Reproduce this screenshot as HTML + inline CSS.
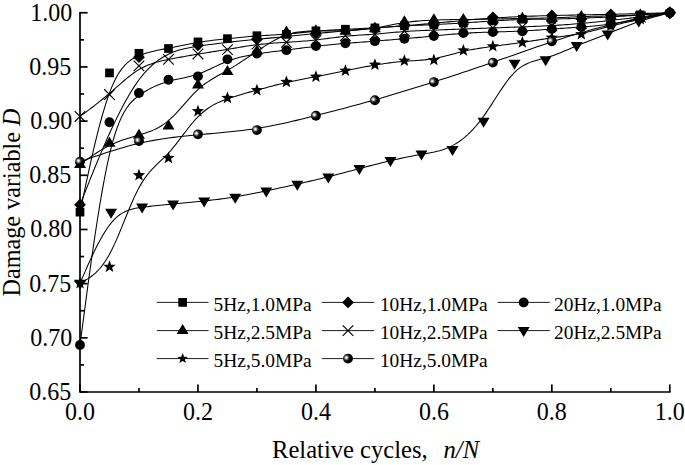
<!DOCTYPE html>
<html><head><meta charset="utf-8"><style>
html,body{margin:0;padding:0;background:#fff;overflow:hidden;}
svg{display:block;}
text{font-family:'Liberation Serif',serif;font-size:24px;fill:#000;}
text.lg{font-size:19.4px;}
text.xt{font-size:24.6px;}
text.yt{font-size:24.2px;}
</style></head><body>
<svg width="685" height="465" viewBox="0 0 685 465">
<defs><radialGradient id="sph" cx="0.34" cy="0.4" r="0.62" fx="0.34" fy="0.4"><stop offset="0" stop-color="#fff"/><stop offset="0.12" stop-color="#eee"/><stop offset="0.38" stop-color="#444"/><stop offset="0.6" stop-color="#000"/><stop offset="1" stop-color="#000"/></radialGradient></defs>
<path d="M80.0,12.75 L80.0,392.01 L669.80,392.01" fill="none" stroke="#000" stroke-width="1.7" stroke-linejoin="miter" stroke-linecap="square"/>
<line x1="80.0" y1="392.01" x2="87.60" y2="392.01" stroke="#000" stroke-width="1.7"/>
<line x1="80.0" y1="364.92" x2="84.00" y2="364.92" stroke="#000" stroke-width="1.7"/>
<line x1="80.0" y1="337.83" x2="87.60" y2="337.83" stroke="#000" stroke-width="1.7"/>
<line x1="80.0" y1="310.74" x2="84.00" y2="310.74" stroke="#000" stroke-width="1.7"/>
<line x1="80.0" y1="283.65" x2="87.60" y2="283.65" stroke="#000" stroke-width="1.7"/>
<line x1="80.0" y1="256.56" x2="84.00" y2="256.56" stroke="#000" stroke-width="1.7"/>
<line x1="80.0" y1="229.47" x2="87.60" y2="229.47" stroke="#000" stroke-width="1.7"/>
<line x1="80.0" y1="202.38" x2="84.00" y2="202.38" stroke="#000" stroke-width="1.7"/>
<line x1="80.0" y1="175.29" x2="87.60" y2="175.29" stroke="#000" stroke-width="1.7"/>
<line x1="80.0" y1="148.20" x2="84.00" y2="148.20" stroke="#000" stroke-width="1.7"/>
<line x1="80.0" y1="121.11" x2="87.60" y2="121.11" stroke="#000" stroke-width="1.7"/>
<line x1="80.0" y1="94.02" x2="84.00" y2="94.02" stroke="#000" stroke-width="1.7"/>
<line x1="80.0" y1="66.93" x2="87.60" y2="66.93" stroke="#000" stroke-width="1.7"/>
<line x1="80.0" y1="39.84" x2="84.00" y2="39.84" stroke="#000" stroke-width="1.7"/>
<line x1="80.0" y1="12.75" x2="87.60" y2="12.75" stroke="#000" stroke-width="1.7"/>
<line x1="80.00" y1="392.01" x2="80.00" y2="384.41" stroke="#000" stroke-width="1.7"/>
<line x1="138.98" y1="392.01" x2="138.98" y2="388.01" stroke="#000" stroke-width="1.7"/>
<line x1="197.96" y1="392.01" x2="197.96" y2="384.41" stroke="#000" stroke-width="1.7"/>
<line x1="256.94" y1="392.01" x2="256.94" y2="388.01" stroke="#000" stroke-width="1.7"/>
<line x1="315.92" y1="392.01" x2="315.92" y2="384.41" stroke="#000" stroke-width="1.7"/>
<line x1="374.90" y1="392.01" x2="374.90" y2="388.01" stroke="#000" stroke-width="1.7"/>
<line x1="433.88" y1="392.01" x2="433.88" y2="384.41" stroke="#000" stroke-width="1.7"/>
<line x1="492.86" y1="392.01" x2="492.86" y2="388.01" stroke="#000" stroke-width="1.7"/>
<line x1="551.84" y1="392.01" x2="551.84" y2="384.41" stroke="#000" stroke-width="1.7"/>
<line x1="610.82" y1="392.01" x2="610.82" y2="388.01" stroke="#000" stroke-width="1.7"/>
<line x1="669.80" y1="392.01" x2="669.80" y2="384.41" stroke="#000" stroke-width="1.7"/>
<text transform="translate(71.20,400.01) scale(1,1.02)" text-anchor="end">0.65</text>
<text transform="translate(72.30,345.83) scale(1,1.02)" text-anchor="end">0.70</text>
<text transform="translate(71.20,291.65) scale(1,1.02)" text-anchor="end">0.75</text>
<text transform="translate(72.30,237.47) scale(1,1.02)" text-anchor="end">0.80</text>
<text transform="translate(71.20,183.29) scale(1,1.02)" text-anchor="end">0.85</text>
<text transform="translate(72.30,129.11) scale(1,1.02)" text-anchor="end">0.90</text>
<text transform="translate(71.20,74.93) scale(1,1.02)" text-anchor="end">0.95</text>
<text transform="translate(72.30,20.75) scale(1,1.02)" text-anchor="end">1.00</text>
<text transform="translate(80.00,419.90) scale(1,1.02)" text-anchor="middle">0.0</text>
<text transform="translate(197.96,419.90) scale(1,1.02)" text-anchor="middle">0.2</text>
<text transform="translate(315.92,419.90) scale(1,1.02)" text-anchor="middle">0.4</text>
<text transform="translate(433.88,419.90) scale(1,1.02)" text-anchor="middle">0.6</text>
<text transform="translate(551.84,419.90) scale(1,1.02)" text-anchor="middle">0.8</text>
<text transform="translate(669.80,419.90) scale(1,1.02)" text-anchor="middle">1.0</text>
<text transform="translate(272.00,458.00) scale(1,1.0)" text-anchor="start" class="xt">Relative cycles,</text>
<text transform="translate(443.50,458.00) scale(1,1.0)" text-anchor="start" class="xt" font-style="italic">n/N</text>
<text class="yt" transform="translate(20,296.5) rotate(-90)">Damage variable <tspan font-style="italic">D</tspan></text>
<path d="M80.00,212.13 L80.00,212.12 L80.02,212.02 L80.08,211.77 L80.18,211.27 L80.36,210.45 L80.61,209.23 L80.98,207.53 L81.46,205.26 L82.07,202.34 L82.84,198.70 L83.79,194.26 L84.91,188.93 L86.24,182.67 L87.76,175.59 L89.45,167.84 L91.29,159.58 L93.26,150.95 L95.36,142.10 L97.56,133.19 L99.84,124.35 L102.19,115.75 L104.60,107.53 L107.04,99.84 L109.49,92.83 L111.95,86.61 L114.40,81.17 L116.86,76.44 L119.32,72.35 L121.78,68.85 L124.23,65.88 L126.69,63.38 L129.15,61.29 L131.61,59.54 L134.06,58.07 L136.52,56.83 L138.98,55.75 L141.44,54.78 L143.89,53.91 L146.35,53.12 L148.81,52.41 L151.27,51.76 L153.72,51.16 L156.18,50.61 L158.64,50.10 L161.10,49.61 L163.56,49.14 L166.01,48.67 L168.47,48.20 L170.93,47.72 L173.38,47.23 L175.84,46.74 L178.30,46.24 L180.76,45.73 L183.21,45.24 L185.67,44.74 L188.13,44.26 L190.59,43.78 L193.04,43.32 L195.50,42.88 L197.96,42.46 L200.42,42.06 L202.87,41.68 L205.33,41.32 L207.79,40.98 L210.25,40.66 L212.70,40.35 L215.16,40.05 L217.62,39.77 L220.08,39.49 L222.53,39.22 L224.99,38.96 L227.45,38.70 L229.91,38.45 L232.37,38.19 L234.82,37.94 L237.28,37.70 L239.74,37.46 L242.19,37.23 L244.65,37.00 L247.11,36.78 L249.57,36.57 L252.03,36.37 L254.48,36.17 L256.94,35.99 L259.40,35.82 L261.86,35.66 L264.31,35.51 L266.77,35.36 L269.23,35.21 L271.69,35.06 L274.14,34.91 L276.60,34.75 L279.06,34.59 L281.51,34.42 L283.97,34.24 L286.43,34.04 L288.89,33.83 L291.34,33.61 L293.80,33.37 L296.26,33.13 L298.72,32.88 L301.17,32.63 L303.63,32.37 L306.09,32.12 L308.55,31.87 L311.00,31.63 L313.46,31.39 L315.92,31.17 L318.38,30.96 L320.83,30.76 L323.29,30.58 L325.75,30.40 L328.21,30.24 L330.66,30.08 L333.12,29.93 L335.58,29.79 L338.04,29.66 L340.49,29.52 L342.95,29.40 L345.41,29.27 L347.87,29.15 L350.32,29.03 L352.78,28.92 L355.24,28.80 L357.70,28.68 L360.15,28.56 L362.61,28.44 L365.07,28.31 L367.53,28.19 L369.98,28.05 L372.44,27.92 L374.90,27.78 L377.36,27.63 L379.81,27.48 L382.27,27.32 L384.73,27.16 L387.19,27.00 L389.64,26.84 L392.10,26.68 L394.56,26.52 L397.02,26.37 L399.47,26.22 L401.93,26.07 L404.39,25.93 L406.85,25.80 L409.31,25.68 L411.76,25.56 L414.22,25.44 L416.68,25.33 L419.13,25.22 L421.59,25.12 L424.05,25.01 L426.51,24.91 L428.97,24.80 L431.42,24.69 L433.88,24.58 L436.34,24.46 L438.79,24.35 L441.25,24.22 L443.71,24.10 L446.17,23.97 L448.62,23.83 L451.08,23.70 L453.54,23.56 L456.00,23.41 L458.45,23.26 L460.91,23.11 L463.37,22.95 L465.83,22.79 L468.28,22.63 L470.74,22.47 L473.20,22.30 L475.66,22.13 L478.12,21.96 L480.57,21.79 L483.03,21.62 L485.49,21.46 L487.94,21.29 L490.40,21.13 L492.86,20.97 L495.32,20.81 L497.77,20.66 L500.23,20.51 L502.69,20.37 L505.15,20.24 L507.60,20.11 L510.06,19.99 L512.52,19.88 L514.98,19.77 L517.43,19.68 L519.89,19.60 L522.35,19.52 L524.81,19.46 L527.26,19.41 L529.72,19.36 L532.18,19.33 L534.64,19.29 L537.09,19.26 L539.55,19.24 L542.01,19.21 L544.47,19.18 L546.92,19.15 L549.38,19.11 L551.84,19.07 L554.30,19.02 L556.75,18.97 L559.21,18.90 L561.67,18.84 L564.13,18.76 L566.59,18.69 L569.04,18.61 L571.50,18.52 L573.96,18.44 L576.41,18.35 L578.87,18.26 L581.33,18.17 L583.79,18.08 L586.24,17.99 L588.70,17.89 L591.16,17.80 L593.62,17.70 L596.07,17.60 L598.53,17.50 L600.99,17.39 L603.45,17.28 L605.90,17.16 L608.36,17.04 L610.82,16.90 L613.28,16.76 L615.73,16.62 L618.19,16.47 L620.65,16.31 L623.11,16.15 L625.56,15.98 L628.02,15.81 L630.48,15.63 L632.94,15.46 L635.39,15.28 L637.85,15.10 L640.31,14.92 L642.76,14.74 L645.20,14.56 L647.61,14.38 L649.96,14.21 L652.24,14.04 L654.44,13.88 L656.54,13.72 L658.51,13.58 L660.35,13.44 L662.04,13.32 L663.56,13.21 L664.88,13.11 L666.01,13.03 L666.96,12.96 L667.73,12.90 L668.34,12.86 L668.82,12.82 L669.19,12.80 L669.44,12.78 L669.62,12.76 L669.72,12.76 L669.78,12.75 L669.80,12.75 L669.80,12.75" fill="none" stroke="#000" stroke-width="1.05"/>
<path d="M80.00,164.45 L80.00,164.45 L80.02,164.44 L80.08,164.40 L80.18,164.32 L80.36,164.20 L80.61,164.01 L80.98,163.75 L81.46,163.41 L82.07,162.97 L82.84,162.42 L83.79,161.74 L84.91,160.93 L86.24,159.98 L87.76,158.90 L89.45,157.72 L91.29,156.45 L93.26,155.11 L95.36,153.72 L97.56,152.30 L99.84,150.88 L102.19,149.47 L104.60,148.08 L107.04,146.75 L109.49,145.49 L111.95,144.32 L114.40,143.22 L116.86,142.20 L119.32,141.25 L121.78,140.35 L124.23,139.51 L126.69,138.70 L129.15,137.93 L131.61,137.18 L134.06,136.45 L136.52,135.72 L138.98,135.00 L141.44,134.26 L143.89,133.50 L146.35,132.70 L148.81,131.84 L151.27,130.89 L153.72,129.86 L156.18,128.70 L158.64,127.42 L161.10,125.99 L163.56,124.39 L166.01,122.61 L168.47,120.62 L170.93,118.43 L173.38,116.05 L175.84,113.52 L178.30,110.87 L180.76,108.14 L183.21,105.36 L185.67,102.57 L188.13,99.80 L190.59,97.08 L193.04,94.44 L195.50,91.93 L197.96,89.58 L200.42,87.40 L202.87,85.40 L205.33,83.54 L207.79,81.82 L210.25,80.20 L212.70,78.68 L215.16,77.22 L217.62,75.82 L220.08,74.45 L222.53,73.09 L224.99,71.72 L227.45,70.33 L229.91,68.88 L232.37,67.40 L234.82,65.88 L237.28,64.32 L239.74,62.74 L242.19,61.13 L244.65,59.50 L247.11,57.85 L249.57,56.20 L252.03,54.54 L254.48,52.89 L256.94,51.24 L259.40,49.59 L261.86,47.97 L264.31,46.38 L266.77,44.82 L269.23,43.32 L271.69,41.86 L274.14,40.48 L276.60,39.17 L279.06,37.95 L281.51,36.82 L283.97,35.80 L286.43,34.89 L288.89,34.10 L291.34,33.43 L293.80,32.86 L296.26,32.39 L298.72,32.00 L301.17,31.69 L303.63,31.45 L306.09,31.26 L308.55,31.13 L311.00,31.04 L313.46,30.98 L315.92,30.94 L318.38,30.91 L320.83,30.90 L323.29,30.89 L325.75,30.88 L328.21,30.88 L330.66,30.88 L333.12,30.87 L335.58,30.86 L338.04,30.83 L340.49,30.80 L342.95,30.75 L345.41,30.68 L347.87,30.60 L350.32,30.49 L352.78,30.36 L355.24,30.20 L357.70,30.02 L360.15,29.82 L362.61,29.59 L365.07,29.33 L367.53,29.05 L369.98,28.73 L372.44,28.39 L374.90,28.01 L377.36,27.60 L379.81,27.17 L382.27,26.71 L384.73,26.24 L387.19,25.76 L389.64,25.27 L392.10,24.79 L394.56,24.31 L397.02,23.85 L399.47,23.41 L401.93,22.98 L404.39,22.59 L406.85,22.24 L409.31,21.91 L411.76,21.62 L414.22,21.36 L416.68,21.12 L419.13,20.91 L421.59,20.72 L424.05,20.56 L426.51,20.41 L428.97,20.28 L431.42,20.17 L433.88,20.06 L436.34,19.97 L438.79,19.90 L441.25,19.83 L443.71,19.77 L446.17,19.71 L448.62,19.67 L451.08,19.63 L453.54,19.59 L456.00,19.56 L458.45,19.53 L460.91,19.51 L463.37,19.49 L465.83,19.46 L468.28,19.44 L470.74,19.42 L473.20,19.40 L475.66,19.37 L478.12,19.35 L480.57,19.32 L483.03,19.29 L485.49,19.25 L487.94,19.21 L490.40,19.17 L492.86,19.13 L495.32,19.07 L497.77,19.02 L500.23,18.96 L502.69,18.89 L505.15,18.83 L507.60,18.77 L510.06,18.70 L512.52,18.64 L514.98,18.58 L517.43,18.52 L519.89,18.47 L522.35,18.42 L524.81,18.38 L527.26,18.34 L529.72,18.31 L532.18,18.27 L534.64,18.24 L537.09,18.21 L539.55,18.17 L542.01,18.13 L544.47,18.08 L546.92,18.03 L549.38,17.97 L551.84,17.90 L554.30,17.81 L556.75,17.72 L559.21,17.62 L561.67,17.52 L564.13,17.41 L566.59,17.29 L569.04,17.18 L571.50,17.07 L573.96,16.95 L576.41,16.85 L578.87,16.75 L581.33,16.65 L583.79,16.56 L586.24,16.49 L588.70,16.42 L591.16,16.35 L593.62,16.29 L596.07,16.23 L598.53,16.18 L600.99,16.12 L603.45,16.07 L605.90,16.01 L608.36,15.95 L610.82,15.89 L613.28,15.83 L615.73,15.76 L618.19,15.68 L620.65,15.60 L623.11,15.51 L625.56,15.42 L628.02,15.33 L630.48,15.22 L632.94,15.11 L635.39,14.99 L637.85,14.87 L640.31,14.74 L642.76,14.60 L645.20,14.45 L647.61,14.30 L649.96,14.15 L652.24,14.00 L654.44,13.86 L656.54,13.71 L658.51,13.57 L660.35,13.44 L662.04,13.32 L663.56,13.21 L664.88,13.11 L666.01,13.03 L666.96,12.96 L667.73,12.90 L668.34,12.86 L668.82,12.82 L669.19,12.80 L669.44,12.78 L669.62,12.76 L669.72,12.76 L669.78,12.75 L669.80,12.75 L669.80,12.75" fill="none" stroke="#000" stroke-width="1.05"/>
<path d="M80.00,283.22 L80.00,283.21 L80.02,283.20 L80.08,283.17 L80.18,283.12 L80.36,283.02 L80.61,282.88 L80.98,282.68 L81.46,282.41 L82.07,282.07 L82.84,281.64 L83.79,281.12 L84.91,280.49 L86.24,279.75 L87.76,278.85 L89.45,277.78 L91.29,276.49 L93.26,274.95 L95.36,273.13 L97.56,270.99 L99.84,268.49 L102.19,265.61 L104.60,262.32 L107.04,258.56 L109.49,254.32 L111.95,249.58 L114.40,244.40 L116.86,238.87 L119.32,233.08 L121.78,227.11 L124.23,221.05 L126.69,214.99 L129.15,209.01 L131.61,203.20 L134.06,197.65 L136.52,192.44 L138.98,187.66 L141.44,183.37 L143.89,179.54 L146.35,176.10 L148.81,173.00 L151.27,170.17 L153.72,167.56 L156.18,165.10 L158.64,162.74 L161.10,160.42 L163.56,158.07 L166.01,155.63 L168.47,153.06 L170.93,150.29 L173.38,147.36 L175.84,144.30 L178.30,141.14 L180.76,137.92 L183.21,134.68 L185.67,131.46 L188.13,128.28 L190.59,125.20 L193.04,122.23 L195.50,119.42 L197.96,116.81 L200.42,114.42 L202.87,112.25 L205.33,110.28 L207.79,108.49 L210.25,106.87 L212.70,105.40 L215.16,104.06 L217.62,102.85 L220.08,101.74 L222.53,100.71 L224.99,99.76 L227.45,98.86 L229.91,98.00 L232.37,97.18 L234.82,96.39 L237.28,95.63 L239.74,94.90 L242.19,94.18 L244.65,93.48 L247.11,92.80 L249.57,92.13 L252.03,91.46 L254.48,90.80 L256.94,90.14 L259.40,89.47 L261.86,88.80 L264.31,88.14 L266.77,87.47 L269.23,86.81 L271.69,86.16 L274.14,85.52 L276.60,84.88 L279.06,84.26 L281.51,83.66 L283.97,83.07 L286.43,82.50 L288.89,81.95 L291.34,81.42 L293.80,80.90 L296.26,80.40 L298.72,79.91 L301.17,79.44 L303.63,78.97 L306.09,78.50 L308.55,78.04 L311.00,77.58 L313.46,77.11 L315.92,76.65 L318.38,76.17 L320.83,75.70 L323.29,75.21 L325.75,74.73 L328.21,74.23 L330.66,73.74 L333.12,73.24 L335.58,72.75 L338.04,72.25 L340.49,71.74 L342.95,71.24 L345.41,70.74 L347.87,70.24 L350.32,69.74 L352.78,69.25 L355.24,68.75 L357.70,68.27 L360.15,67.79 L362.61,67.31 L365.07,66.85 L367.53,66.39 L369.98,65.94 L372.44,65.51 L374.90,65.09 L377.36,64.68 L379.81,64.29 L382.27,63.91 L384.73,63.54 L387.19,63.20 L389.64,62.87 L392.10,62.56 L394.56,62.27 L397.02,62.00 L399.47,61.75 L401.93,61.52 L404.39,61.31 L406.85,61.13 L409.31,60.96 L411.76,60.80 L414.22,60.65 L416.68,60.49 L419.13,60.31 L421.59,60.12 L424.05,59.90 L426.51,59.64 L428.97,59.35 L431.42,59.00 L433.88,58.60 L436.34,58.15 L438.79,57.63 L441.25,57.07 L443.71,56.48 L446.17,55.85 L448.62,55.21 L451.08,54.55 L453.54,53.89 L456.00,53.24 L458.45,52.59 L460.91,51.97 L463.37,51.38 L465.83,50.83 L468.28,50.31 L470.74,49.82 L473.20,49.36 L475.66,48.93 L478.12,48.52 L480.57,48.13 L483.03,47.76 L485.49,47.41 L487.94,47.06 L490.40,46.73 L492.86,46.40 L495.32,46.07 L497.77,45.74 L500.23,45.41 L502.69,45.09 L505.15,44.76 L507.60,44.43 L510.06,44.10 L512.52,43.76 L514.98,43.42 L517.43,43.08 L519.89,42.73 L522.35,42.37 L524.81,42.00 L527.26,41.63 L529.72,41.26 L532.18,40.88 L534.64,40.50 L537.09,40.12 L539.55,39.74 L542.01,39.36 L544.47,38.99 L546.92,38.62 L549.38,38.26 L551.84,37.91 L554.30,37.56 L556.75,37.23 L559.21,36.89 L561.67,36.56 L564.13,36.21 L566.59,35.86 L569.04,35.50 L571.50,35.12 L573.96,34.73 L576.41,34.30 L578.87,33.85 L581.33,33.37 L583.79,32.86 L586.24,32.32 L588.70,31.75 L591.16,31.15 L593.62,30.54 L596.07,29.92 L598.53,29.28 L600.99,28.64 L603.45,27.99 L605.90,27.35 L608.36,26.71 L610.82,26.08 L613.28,25.46 L615.73,24.86 L618.19,24.26 L620.65,23.68 L623.11,23.11 L625.56,22.54 L628.02,21.98 L630.48,21.43 L632.94,20.88 L635.39,20.34 L637.85,19.79 L640.31,19.25 L642.76,18.71 L645.20,18.17 L647.61,17.64 L649.96,17.12 L652.24,16.62 L654.44,16.14 L656.54,15.67 L658.51,15.24 L660.35,14.83 L662.04,14.46 L663.56,14.13 L664.88,13.83 L666.01,13.58 L666.96,13.38 L667.73,13.21 L668.34,13.07 L668.82,12.97 L669.19,12.89 L669.44,12.83 L669.62,12.79 L669.72,12.77 L669.78,12.76 L669.80,12.75 L669.80,12.75" fill="none" stroke="#000" stroke-width="1.05"/>
<path d="M80.00,204.76 L80.01,204.75 L80.05,204.65 L80.15,204.38 L80.36,203.85 L80.71,202.98 L81.23,201.69 L81.95,199.88 L82.91,197.48 L84.15,194.39 L85.69,190.53 L87.57,185.82 L89.83,180.17 L92.49,173.53 L95.52,166.04 L98.89,157.84 L102.57,149.12 L106.53,140.02 L110.72,130.72 L115.12,121.38 L119.68,112.16 L124.39,103.23 L129.20,94.75 L134.07,86.88 L138.98,79.79 L143.90,73.60 L148.81,68.28 L153.72,63.75 L158.64,59.94 L163.55,56.77 L168.47,54.17 L173.38,52.06 L178.30,50.36 L183.21,49.01 L188.13,47.92 L193.04,47.03 L197.96,46.25 L202.87,45.53 L207.79,44.84 L212.71,44.19 L217.62,43.57 L222.53,42.97 L227.45,42.41 L232.36,41.86 L237.28,41.33 L242.19,40.82 L247.11,40.32 L252.02,39.82 L256.94,39.33 L261.86,38.85 L266.77,38.36 L271.69,37.88 L276.60,37.40 L281.51,36.91 L286.43,36.43 L291.34,35.95 L296.26,35.48 L301.17,35.00 L306.09,34.52 L311.00,34.05 L315.92,33.57 L320.83,33.10 L325.75,32.63 L330.66,32.16 L335.58,31.69 L340.49,31.23 L345.41,30.77 L350.32,30.31 L355.24,29.86 L360.15,29.42 L365.07,28.99 L369.98,28.56 L374.90,28.14 L379.81,27.73 L384.73,27.32 L389.64,26.92 L394.56,26.53 L399.47,26.13 L404.39,25.74 L409.30,25.34 L414.22,24.94 L419.13,24.54 L424.05,24.12 L428.96,23.70 L433.88,23.26 L438.79,22.81 L443.71,22.35 L448.62,21.89 L453.54,21.42 L458.45,20.96 L463.37,20.50 L468.29,20.04 L473.20,19.60 L478.12,19.18 L483.03,18.78 L487.94,18.40 L492.86,18.04 L497.77,17.72 L502.69,17.42 L507.60,17.15 L512.52,16.91 L517.43,16.69 L522.35,16.49 L527.26,16.31 L532.18,16.14 L537.09,15.98 L542.01,15.84 L546.92,15.71 L551.84,15.59 L556.75,15.47 L561.67,15.35 L566.58,15.24 L571.50,15.13 L576.41,15.03 L581.33,14.92 L586.24,14.82 L591.16,14.71 L596.07,14.61 L600.99,14.50 L605.90,14.40 L610.82,14.29 L615.73,14.17 L620.60,14.05 L625.41,13.94 L630.12,13.82 L634.68,13.70 L639.08,13.59 L643.27,13.47 L647.23,13.37 L650.91,13.27 L654.28,13.18 L657.31,13.09 L659.97,13.02 L662.23,12.96 L664.11,12.91 L665.65,12.86 L666.89,12.83 L667.85,12.80 L668.57,12.78 L669.09,12.77 L669.44,12.76 L669.65,12.75 L669.75,12.75 L669.79,12.75 L669.80,12.75" fill="none" stroke="#000" stroke-width="1.05"/>
<path d="M80.00,116.45 L80.00,116.45 L80.02,116.43 L80.08,116.39 L80.18,116.32 L80.36,116.19 L80.61,115.99 L80.98,115.73 L81.46,115.37 L82.07,114.91 L82.84,114.34 L83.79,113.64 L84.91,112.80 L86.24,111.82 L87.76,110.69 L89.45,109.42 L91.29,108.03 L93.26,106.52 L95.36,104.91 L97.56,103.19 L99.84,101.39 L102.19,99.50 L104.60,97.53 L107.04,95.51 L109.49,93.42 L111.95,91.29 L114.40,89.13 L116.86,86.96 L119.32,84.79 L121.78,82.64 L124.23,80.52 L126.69,78.46 L129.15,76.47 L131.61,74.57 L134.06,72.77 L136.52,71.09 L138.98,69.55 L141.44,68.16 L143.89,66.91 L146.35,65.79 L148.81,64.78 L151.27,63.89 L153.72,63.08 L156.18,62.36 L158.64,61.70 L161.10,61.10 L163.56,60.55 L166.01,60.03 L168.47,59.53 L170.93,59.03 L173.38,58.55 L175.84,58.07 L178.30,57.60 L180.76,57.14 L183.21,56.68 L185.67,56.23 L188.13,55.79 L190.59,55.36 L193.04,54.94 L195.50,54.52 L197.96,54.11 L200.42,53.70 L202.87,53.31 L205.33,52.92 L207.79,52.53 L210.25,52.14 L212.70,51.76 L215.16,51.37 L217.62,50.99 L220.08,50.60 L222.53,50.20 L224.99,49.80 L227.45,49.39 L229.91,48.98 L232.37,48.56 L234.82,48.14 L237.28,47.71 L239.74,47.30 L242.19,46.88 L244.65,46.48 L247.11,46.09 L249.57,45.71 L252.03,45.35 L254.48,45.01 L256.94,44.70 L259.40,44.41 L261.86,44.14 L264.31,43.90 L266.77,43.67 L269.23,43.47 L271.69,43.27 L274.14,43.09 L276.60,42.92 L279.06,42.76 L281.51,42.60 L283.97,42.45 L286.43,42.30 L288.89,42.14 L291.34,41.98 L293.80,41.82 L296.26,41.65 L298.72,41.48 L301.17,41.30 L303.63,41.10 L306.09,40.90 L308.55,40.68 L311.00,40.45 L313.46,40.20 L315.92,39.93 L318.38,39.65 L320.83,39.35 L323.29,39.04 L325.75,38.72 L328.21,38.39 L330.66,38.07 L333.12,37.74 L335.58,37.42 L338.04,37.12 L340.49,36.82 L342.95,36.54 L345.41,36.28 L347.87,36.05 L350.32,35.83 L352.78,35.63 L355.24,35.44 L357.70,35.27 L360.15,35.10 L362.61,34.94 L365.07,34.78 L367.53,34.62 L369.98,34.45 L372.44,34.28 L374.90,34.10 L377.36,33.90 L379.81,33.69 L382.27,33.48 L384.73,33.26 L387.19,33.03 L389.64,32.80 L392.10,32.57 L394.56,32.35 L397.02,32.13 L399.47,31.92 L401.93,31.72 L404.39,31.53 L406.85,31.36 L409.31,31.20 L411.76,31.05 L414.22,30.92 L416.68,30.79 L419.13,30.67 L421.59,30.57 L424.05,30.46 L426.51,30.36 L428.97,30.27 L431.42,30.18 L433.88,30.09 L436.34,30.00 L438.79,29.91 L441.25,29.82 L443.71,29.73 L446.17,29.64 L448.62,29.55 L451.08,29.46 L453.54,29.37 L456.00,29.27 L458.45,29.18 L460.91,29.09 L463.37,29.00 L465.83,28.91 L468.28,28.82 L470.74,28.73 L473.20,28.64 L475.66,28.55 L478.12,28.46 L480.57,28.37 L483.03,28.28 L485.49,28.19 L487.94,28.10 L490.40,28.01 L492.86,27.92 L495.32,27.83 L497.77,27.74 L500.23,27.65 L502.69,27.56 L505.15,27.47 L507.60,27.38 L510.06,27.29 L512.52,27.20 L514.98,27.11 L517.43,27.02 L519.89,26.93 L522.35,26.84 L524.81,26.75 L527.26,26.66 L529.72,26.56 L532.18,26.47 L534.64,26.37 L537.09,26.27 L539.55,26.17 L542.01,26.06 L544.47,25.95 L546.92,25.83 L549.38,25.70 L551.84,25.57 L554.30,25.43 L556.75,25.29 L559.21,25.13 L561.67,24.97 L564.13,24.80 L566.59,24.62 L569.04,24.44 L571.50,24.25 L573.96,24.05 L576.41,23.84 L578.87,23.63 L581.33,23.41 L583.79,23.18 L586.24,22.94 L588.70,22.70 L591.16,22.45 L593.62,22.20 L596.07,21.94 L598.53,21.68 L600.99,21.41 L603.45,21.15 L605.90,20.88 L608.36,20.61 L610.82,20.34 L613.28,20.06 L615.73,19.79 L618.19,19.52 L620.65,19.24 L623.11,18.97 L625.56,18.69 L628.02,18.40 L630.48,18.11 L632.94,17.82 L635.39,17.52 L637.85,17.22 L640.31,16.90 L642.76,16.58 L645.20,16.26 L647.61,15.94 L649.96,15.61 L652.24,15.29 L654.44,14.98 L656.54,14.69 L658.51,14.40 L660.35,14.14 L662.04,13.89 L663.56,13.67 L664.88,13.47 L666.01,13.31 L666.96,13.17 L667.73,13.05 L668.34,12.96 L668.82,12.89 L669.19,12.84 L669.44,12.80 L669.62,12.78 L669.72,12.76 L669.78,12.75 L669.80,12.75 L669.80,12.75" fill="none" stroke="#000" stroke-width="1.05"/>
<path d="M80.00,161.74 L80.01,161.74 L80.05,161.73 L80.15,161.69 L80.36,161.62 L80.71,161.50 L81.23,161.31 L81.95,161.06 L82.91,160.72 L84.15,160.29 L85.69,159.75 L87.57,159.09 L89.83,158.30 L92.49,157.36 L95.52,156.31 L98.89,155.15 L102.57,153.91 L106.53,152.61 L110.72,151.26 L115.12,149.88 L119.68,148.51 L124.39,147.15 L129.20,145.83 L134.07,144.57 L138.98,143.38 L143.90,142.28 L148.81,141.28 L153.72,140.36 L158.64,139.51 L163.55,138.74 L168.47,138.03 L173.38,137.38 L178.30,136.78 L183.21,136.22 L188.13,135.70 L193.04,135.21 L197.96,134.75 L202.87,134.30 L207.79,133.86 L212.71,133.42 L217.62,132.98 L222.53,132.53 L227.45,132.06 L232.36,131.56 L237.28,131.02 L242.19,130.45 L247.11,129.83 L252.02,129.15 L256.94,128.41 L261.86,127.60 L266.77,126.72 L271.69,125.78 L276.60,124.79 L281.51,123.75 L286.43,122.67 L291.34,121.54 L296.26,120.38 L301.17,119.20 L306.09,117.99 L311.00,116.77 L315.92,115.53 L320.83,114.28 L325.75,113.03 L330.66,111.77 L335.58,110.50 L340.49,109.21 L345.41,107.92 L350.32,106.61 L355.24,105.29 L360.15,103.95 L365.07,102.60 L369.98,101.23 L374.90,99.84 L379.81,98.43 L384.73,97.00 L389.64,95.55 L394.56,94.09 L399.47,92.61 L404.39,91.12 L409.30,89.61 L414.22,88.09 L419.13,86.55 L424.05,85.01 L428.96,83.45 L433.88,81.88 L438.79,80.31 L443.71,78.72 L448.62,77.13 L453.54,75.52 L458.45,73.91 L463.37,72.28 L468.29,70.65 L473.20,69.00 L478.12,67.34 L483.03,65.67 L487.94,63.98 L492.86,62.29 L497.77,60.58 L502.69,58.86 L507.60,57.14 L512.52,55.41 L517.43,53.68 L522.35,51.96 L527.26,50.24 L532.18,48.53 L537.09,46.84 L542.01,45.16 L546.92,43.50 L551.84,41.86 L556.75,40.25 L561.67,38.67 L566.58,37.11 L571.50,35.59 L576.41,34.09 L581.33,32.64 L586.24,31.22 L591.16,29.83 L596.07,28.49 L600.99,27.19 L605.90,25.93 L610.82,24.72 L615.73,23.56 L620.60,22.45 L625.41,21.39 L630.12,20.38 L634.68,19.43 L639.08,18.54 L643.27,17.71 L647.23,16.94 L650.91,16.24 L654.28,15.61 L657.31,15.04 L659.97,14.56 L662.23,14.14 L664.11,13.80 L665.65,13.51 L666.89,13.29 L667.85,13.11 L668.57,12.98 L669.09,12.88 L669.44,12.82 L669.65,12.78 L669.75,12.76 L669.79,12.75 L669.80,12.75" fill="none" stroke="#000" stroke-width="1.05"/>
<path d="M80.00,344.98 L80.00,344.96 L80.02,344.81 L80.08,344.40 L80.18,343.61 L80.36,342.30 L80.61,340.34 L80.98,337.61 L81.46,333.98 L82.07,329.32 L82.84,323.49 L83.79,316.38 L84.91,307.85 L86.24,297.83 L87.76,286.51 L89.45,274.12 L91.29,260.91 L93.26,247.12 L95.36,232.98 L97.56,218.74 L99.84,204.64 L102.19,190.92 L104.60,177.82 L107.04,165.58 L109.49,154.45 L111.95,144.60 L114.40,136.00 L116.86,128.53 L119.32,122.10 L121.78,116.60 L124.23,111.93 L126.69,107.99 L129.15,104.68 L131.61,101.88 L134.06,99.51 L136.52,97.45 L138.98,95.61 L141.44,93.89 L143.89,92.29 L146.35,90.78 L148.81,89.38 L151.27,88.08 L153.72,86.87 L156.18,85.74 L158.64,84.71 L161.10,83.76 L163.56,82.88 L166.01,82.09 L168.47,81.36 L170.93,80.70 L173.38,80.10 L175.84,79.53 L178.30,79.00 L180.76,78.48 L183.21,77.96 L185.67,77.42 L188.13,76.86 L190.59,76.26 L193.04,75.61 L195.50,74.89 L197.96,74.08 L200.42,73.19 L202.87,72.21 L205.33,71.17 L207.79,70.08 L210.25,68.95 L212.70,67.80 L215.16,66.64 L217.62,65.48 L220.08,64.35 L222.53,63.25 L224.99,62.19 L227.45,61.20 L229.91,60.29 L232.37,59.45 L234.82,58.67 L237.28,57.96 L239.74,57.31 L242.19,56.70 L244.65,56.15 L247.11,55.64 L249.57,55.16 L252.03,54.72 L254.48,54.30 L256.94,53.91 L259.40,53.53 L261.86,53.17 L264.31,52.83 L266.77,52.49 L269.23,52.17 L271.69,51.85 L274.14,51.54 L276.60,51.24 L279.06,50.93 L281.51,50.63 L283.97,50.33 L286.43,50.03 L288.89,49.72 L291.34,49.40 L293.80,49.09 L296.26,48.77 L298.72,48.46 L301.17,48.14 L303.63,47.83 L306.09,47.52 L308.55,47.21 L311.00,46.91 L313.46,46.61 L315.92,46.32 L318.38,46.04 L320.83,45.77 L323.29,45.51 L325.75,45.25 L328.21,45.00 L330.66,44.75 L333.12,44.52 L335.58,44.29 L338.04,44.06 L340.49,43.84 L342.95,43.63 L345.41,43.42 L347.87,43.21 L350.32,43.01 L352.78,42.81 L355.24,42.62 L357.70,42.42 L360.15,42.23 L362.61,42.04 L365.07,41.86 L367.53,41.67 L369.98,41.48 L372.44,41.29 L374.90,41.10 L377.36,40.91 L379.81,40.72 L382.27,40.53 L384.73,40.33 L387.19,40.14 L389.64,39.94 L392.10,39.74 L394.56,39.53 L397.02,39.33 L399.47,39.12 L401.93,38.91 L404.39,38.70 L406.85,38.49 L409.31,38.27 L411.76,38.06 L414.22,37.84 L416.68,37.61 L419.13,37.39 L421.59,37.16 L424.05,36.93 L426.51,36.70 L428.97,36.47 L431.42,36.23 L433.88,35.99 L436.34,35.75 L438.79,35.51 L441.25,35.27 L443.71,35.03 L446.17,34.80 L448.62,34.56 L451.08,34.34 L453.54,34.12 L456.00,33.91 L458.45,33.71 L460.91,33.52 L463.37,33.34 L465.83,33.17 L468.28,33.02 L470.74,32.88 L473.20,32.75 L475.66,32.63 L478.12,32.52 L480.57,32.42 L483.03,32.32 L485.49,32.24 L487.94,32.15 L490.40,32.08 L492.86,32.00 L495.32,31.93 L497.77,31.86 L500.23,31.79 L502.69,31.72 L505.15,31.65 L507.60,31.58 L510.06,31.50 L512.52,31.42 L514.98,31.33 L517.43,31.23 L519.89,31.13 L522.35,31.01 L524.81,30.88 L527.26,30.74 L529.72,30.60 L532.18,30.44 L534.64,30.28 L537.09,30.11 L539.55,29.94 L542.01,29.77 L544.47,29.59 L546.92,29.41 L549.38,29.24 L551.84,29.06 L554.30,28.88 L556.75,28.71 L559.21,28.54 L561.67,28.37 L564.13,28.20 L566.59,28.03 L569.04,27.86 L571.50,27.68 L573.96,27.51 L576.41,27.34 L578.87,27.16 L581.33,26.98 L583.79,26.80 L586.24,26.61 L588.70,26.42 L591.16,26.21 L593.62,26.00 L596.07,25.77 L598.53,25.52 L600.99,25.26 L603.45,24.97 L605.90,24.67 L608.36,24.34 L610.82,23.98 L613.28,23.60 L615.73,23.19 L618.19,22.76 L620.65,22.31 L623.11,21.84 L625.56,21.36 L628.02,20.86 L630.48,20.36 L632.94,19.86 L635.39,19.35 L637.85,18.85 L640.31,18.35 L642.76,17.86 L645.20,17.37 L647.61,16.90 L649.96,16.45 L652.24,16.01 L654.44,15.59 L656.54,15.20 L658.51,14.83 L660.35,14.49 L662.04,14.18 L663.56,13.90 L664.88,13.65 L666.01,13.45 L666.96,13.27 L667.73,13.13 L668.34,13.02 L668.82,12.93 L669.19,12.86 L669.44,12.82 L669.62,12.78 L669.72,12.76 L669.78,12.75 L669.80,12.75 L669.80,12.75" fill="none" stroke="#000" stroke-width="1.05"/>
<path d="M80.00,283.22 L80.00,283.21 L80.02,283.16 L80.08,283.03 L80.19,282.78 L80.37,282.36 L80.65,281.74 L81.03,280.86 L81.53,279.71 L82.18,278.22 L82.99,276.36 L83.99,274.09 L85.17,271.37 L86.57,268.17 L88.17,264.56 L89.94,260.62 L91.88,256.42 L93.96,252.04 L96.17,247.57 L98.48,243.07 L100.89,238.64 L103.36,234.35 L105.89,230.28 L108.46,226.51 L111.04,223.11 L113.63,220.16 L116.22,217.62 L118.80,215.47 L121.39,213.67 L123.98,212.17 L126.56,210.95 L129.15,209.97 L131.74,209.18 L134.32,208.56 L136.91,208.07 L139.50,207.66 L142.08,207.31 L144.67,206.98 L147.26,206.66 L149.84,206.36 L152.43,206.07 L155.02,205.79 L157.61,205.52 L160.19,205.25 L162.78,204.99 L165.37,204.74 L167.95,204.49 L170.54,204.25 L173.13,204.01 L175.71,203.76 L178.30,203.52 L180.89,203.27 L183.47,203.02 L186.06,202.78 L188.65,202.52 L191.23,202.27 L193.82,202.01 L196.41,201.75 L198.99,201.48 L201.58,201.21 L204.17,200.94 L206.76,200.65 L209.34,200.36 L211.93,200.06 L214.52,199.76 L217.10,199.44 L219.69,199.11 L222.28,198.77 L224.86,198.42 L227.45,198.05 L230.04,197.67 L232.62,197.27 L235.21,196.85 L237.80,196.42 L240.38,195.97 L242.97,195.51 L245.56,195.03 L248.14,194.53 L250.73,194.03 L253.32,193.52 L255.91,192.99 L258.49,192.46 L261.08,191.93 L263.67,191.38 L266.25,190.84 L268.84,190.29 L271.43,189.74 L274.01,189.19 L276.60,188.64 L279.19,188.08 L281.77,187.52 L284.36,186.95 L286.95,186.39 L289.53,185.82 L292.12,185.24 L294.71,184.67 L297.29,184.09 L299.88,183.50 L302.47,182.91 L305.06,182.32 L307.64,181.72 L310.23,181.12 L312.82,180.51 L315.40,179.90 L317.99,179.28 L320.58,178.65 L323.16,178.02 L325.75,177.38 L328.34,176.73 L330.92,176.08 L333.51,175.42 L336.10,174.75 L338.68,174.08 L341.27,173.41 L343.86,172.73 L346.44,172.04 L349.03,171.36 L351.62,170.67 L354.21,169.98 L356.79,169.29 L359.38,168.61 L361.97,167.92 L364.55,167.24 L367.14,166.56 L369.73,165.88 L372.31,165.21 L374.90,164.55 L377.49,163.89 L380.07,163.24 L382.66,162.59 L385.25,161.96 L387.83,161.33 L390.42,160.72 L393.01,160.11 L395.59,159.52 L398.18,158.94 L400.77,158.37 L403.36,157.82 L405.94,157.27 L408.53,156.74 L411.12,156.23 L413.70,155.73 L416.29,155.24 L418.88,154.76 L421.46,154.30 L424.05,153.86 L426.64,153.41 L429.22,152.95 L431.81,152.46 L434.40,151.92 L436.98,151.32 L439.57,150.65 L442.16,149.88 L444.74,149.01 L447.33,148.02 L449.92,146.90 L452.51,145.62 L455.09,144.17 L457.68,142.56 L460.27,140.78 L462.85,138.81 L465.44,136.67 L468.03,134.35 L470.61,131.84 L473.20,129.13 L475.79,126.24 L478.37,123.15 L480.96,119.86 L483.55,116.36 L486.13,112.67 L488.72,108.81 L491.31,104.85 L493.89,100.83 L496.48,96.80 L499.07,92.80 L501.66,88.89 L504.24,85.11 L506.83,81.52 L509.42,78.16 L512.00,75.08 L514.59,72.33 L517.18,69.94 L519.76,67.90 L522.35,66.16 L524.94,64.68 L527.52,63.43 L530.11,62.37 L532.70,61.47 L535.28,60.67 L537.87,59.96 L540.46,59.28 L543.04,58.61 L545.63,57.90 L548.22,57.12 L550.81,56.28 L553.39,55.38 L555.98,54.43 L558.57,53.44 L561.15,52.41 L563.74,51.35 L566.33,50.27 L568.91,49.18 L571.50,48.08 L574.09,46.99 L576.67,45.91 L579.26,44.84 L581.85,43.79 L584.43,42.76 L587.02,41.73 L589.61,40.71 L592.19,39.70 L594.78,38.70 L597.37,37.69 L599.96,36.69 L602.54,35.68 L605.13,34.67 L607.72,33.65 L610.30,32.62 L612.89,31.58 L615.48,30.54 L618.06,29.51 L620.65,28.47 L623.24,27.45 L625.82,26.44 L628.41,25.44 L631.00,24.47 L633.58,23.51 L636.17,22.59 L638.76,21.69 L641.34,20.83 L643.91,20.00 L646.44,19.21 L648.91,18.46 L651.32,17.75 L653.63,17.08 L655.84,16.46 L657.92,15.89 L659.86,15.37 L661.63,14.89 L663.23,14.47 L664.63,14.10 L665.81,13.79 L666.81,13.53 L667.62,13.32 L668.27,13.15 L668.77,13.02 L669.15,12.92 L669.43,12.85 L669.61,12.80 L669.72,12.77 L669.78,12.76 L669.80,12.75 L669.80,12.75" fill="none" stroke="#000" stroke-width="1.05"/>
<rect x="75.65" y="207.78" width="8.70" height="8.70"/>
<rect x="105.14" y="68.54" width="8.70" height="8.70"/>
<rect x="134.63" y="48.93" width="8.70" height="8.70"/>
<rect x="164.12" y="44.16" width="8.70" height="8.70"/>
<rect x="193.61" y="37.55" width="8.70" height="8.70"/>
<rect x="223.10" y="34.30" width="8.70" height="8.70"/>
<rect x="252.59" y="31.37" width="8.70" height="8.70"/>
<rect x="282.08" y="30.07" width="8.70" height="8.70"/>
<rect x="311.57" y="26.50" width="8.70" height="8.70"/>
<rect x="341.06" y="24.87" width="8.70" height="8.70"/>
<rect x="370.55" y="23.57" width="8.70" height="8.70"/>
<rect x="400.04" y="21.40" width="8.70" height="8.70"/>
<rect x="429.53" y="20.32" width="8.70" height="8.70"/>
<rect x="459.02" y="18.69" width="8.70" height="8.70"/>
<rect x="488.51" y="16.53" width="8.70" height="8.70"/>
<rect x="518.00" y="14.90" width="8.70" height="8.70"/>
<rect x="547.49" y="14.90" width="8.70" height="8.70"/>
<rect x="576.98" y="13.82" width="8.70" height="8.70"/>
<rect x="606.47" y="12.73" width="8.70" height="8.70"/>
<rect x="635.96" y="10.57" width="8.70" height="8.70"/>
<path d="M80.00,157.95 L86.00,167.95 L74.00,167.95Z"/>
<path d="M109.49,136.82 L115.49,146.82 L103.49,146.82Z"/>
<path d="M138.98,128.70 L144.98,138.70 L132.98,138.70Z"/>
<path d="M168.47,119.38 L174.47,129.38 L162.47,129.38Z"/>
<path d="M197.96,78.53 L203.96,88.53 L191.96,88.53Z"/>
<path d="M227.45,64.98 L233.45,74.98 L221.45,74.98Z"/>
<path d="M256.94,44.50 L262.94,54.50 L250.94,54.50Z"/>
<path d="M286.43,25.43 L292.43,35.43 L280.43,35.43Z"/>
<path d="M315.92,24.13 L321.92,34.13 L309.92,34.13Z"/>
<path d="M345.41,24.67 L351.41,34.67 L339.41,34.67Z"/>
<path d="M374.90,22.29 L380.90,32.29 L368.90,32.29Z"/>
<path d="M404.39,15.24 L410.39,25.24 L398.39,25.24Z"/>
<path d="M433.88,13.29 L439.88,23.29 L427.88,23.29Z"/>
<path d="M463.37,12.97 L469.37,22.97 L457.37,22.97Z"/>
<path d="M492.86,12.75 L498.86,22.75 L486.86,22.75Z"/>
<path d="M522.35,11.78 L528.35,21.78 L516.35,21.78Z"/>
<path d="M551.84,11.67 L557.84,21.67 L545.84,21.67Z"/>
<path d="M581.33,9.93 L587.33,19.93 L575.33,19.93Z"/>
<path d="M610.82,9.50 L616.82,19.50 L604.82,19.50Z"/>
<path d="M640.31,8.42 L646.31,18.42 L634.31,18.42Z"/>
<path d="M80.00,276.72 L81.60,281.01 L86.18,281.21 L82.60,284.06 L83.82,288.48 L80.00,285.95 L76.18,288.48 L77.40,284.06 L73.82,281.21 L78.40,281.01Z"/>
<path d="M109.49,260.35 L111.09,264.65 L115.67,264.85 L112.09,267.70 L113.31,272.11 L109.49,269.58 L105.67,272.11 L106.89,267.70 L103.31,264.85 L107.89,264.65Z"/>
<path d="M138.98,168.79 L140.58,173.08 L145.16,173.28 L141.58,176.13 L142.80,180.55 L138.98,178.02 L135.16,180.55 L136.38,176.13 L132.80,173.28 L137.38,173.08Z"/>
<path d="M168.47,151.45 L170.07,155.74 L174.65,155.94 L171.07,158.80 L172.29,163.21 L168.47,160.68 L164.65,163.21 L165.87,158.80 L162.29,155.94 L166.87,155.74Z"/>
<path d="M197.96,104.75 L199.56,109.04 L204.14,109.24 L200.56,112.09 L201.78,116.51 L197.96,113.98 L194.14,116.51 L195.36,112.09 L191.78,109.24 L196.36,109.04Z"/>
<path d="M227.45,91.42 L229.05,95.71 L233.63,95.91 L230.05,98.76 L231.27,103.18 L227.45,100.65 L223.63,103.18 L224.85,98.76 L221.27,95.91 L225.85,95.71Z"/>
<path d="M256.94,83.73 L258.54,88.02 L263.12,88.22 L259.54,91.07 L260.76,95.49 L256.94,92.96 L253.12,95.49 L254.34,91.07 L250.76,88.22 L255.34,88.02Z"/>
<path d="M286.43,75.49 L288.03,79.78 L292.61,79.98 L289.03,82.84 L290.25,87.25 L286.43,84.72 L282.61,87.25 L283.83,82.84 L280.25,79.98 L284.83,79.78Z"/>
<path d="M315.92,70.29 L317.52,74.58 L322.10,74.78 L318.52,77.63 L319.74,82.05 L315.92,79.52 L312.10,82.05 L313.32,77.63 L309.74,74.78 L314.32,74.58Z"/>
<path d="M345.41,64.22 L347.01,68.51 L351.59,68.71 L348.01,71.57 L349.23,75.98 L345.41,73.45 L341.59,75.98 L342.81,71.57 L339.23,68.71 L343.81,68.51Z"/>
<path d="M374.90,58.26 L376.50,62.55 L381.08,62.75 L377.50,65.61 L378.72,70.02 L374.90,67.49 L371.08,70.02 L372.30,65.61 L368.72,62.75 L373.30,62.55Z"/>
<path d="M404.39,54.25 L405.99,58.54 L410.57,58.74 L406.99,61.60 L408.21,66.01 L404.39,63.48 L400.57,66.01 L401.79,61.60 L398.21,58.74 L402.79,58.54Z"/>
<path d="M433.88,53.60 L435.48,57.89 L440.06,58.09 L436.48,60.95 L437.70,65.36 L433.88,62.83 L430.06,65.36 L431.28,60.95 L427.70,58.09 L432.28,57.89Z"/>
<path d="M463.37,43.96 L464.97,48.25 L469.55,48.45 L465.97,51.30 L467.19,55.72 L463.37,53.19 L459.55,55.72 L460.77,51.30 L457.19,48.45 L461.77,48.25Z"/>
<path d="M492.86,39.84 L494.46,44.13 L499.04,44.33 L495.46,47.19 L496.68,51.60 L492.86,49.07 L489.04,51.60 L490.26,47.19 L486.68,44.33 L491.26,44.13Z"/>
<path d="M522.35,36.05 L523.95,40.34 L528.53,40.54 L524.95,43.39 L526.17,47.81 L522.35,45.28 L518.53,47.81 L519.75,43.39 L516.17,40.54 L520.75,40.34Z"/>
<path d="M551.84,31.17 L553.44,35.46 L558.02,35.66 L554.44,38.52 L555.66,42.93 L551.84,40.40 L548.02,42.93 L549.24,38.52 L545.66,35.66 L550.24,35.46Z"/>
<path d="M581.33,27.71 L582.93,32.00 L587.51,32.20 L583.93,35.05 L585.15,39.46 L581.33,36.94 L577.51,39.46 L578.73,35.05 L575.15,32.20 L579.73,32.00Z"/>
<path d="M610.82,19.25 L612.42,23.54 L617.00,23.74 L613.42,26.60 L614.64,31.01 L610.82,28.48 L607.00,31.01 L608.22,26.60 L604.64,23.74 L609.22,23.54Z"/>
<path d="M640.31,12.75 L641.91,17.04 L646.49,17.24 L642.91,20.10 L644.13,24.51 L640.31,21.98 L636.49,24.51 L637.71,20.10 L634.13,17.24 L638.71,17.04Z"/>
<path d="M80.00,198.86 L85.90,204.76 L80.00,210.66 L74.10,204.76Z"/>
<path d="M138.98,51.28 L144.88,57.18 L138.98,63.08 L133.08,57.18Z"/>
<path d="M197.96,39.36 L203.86,45.26 L197.96,51.16 L192.06,45.26Z"/>
<path d="M256.94,33.40 L262.84,39.30 L256.94,45.20 L251.04,39.30Z"/>
<path d="M315.92,27.66 L321.82,33.56 L315.92,39.46 L310.02,33.56Z"/>
<path d="M374.90,22.02 L380.80,27.92 L374.90,33.82 L369.00,27.92Z"/>
<path d="M433.88,17.69 L439.78,23.59 L433.88,29.49 L427.98,23.59Z"/>
<path d="M492.86,11.40 L498.76,17.30 L492.86,23.20 L486.96,17.30Z"/>
<path d="M551.84,9.56 L557.74,15.46 L551.84,21.36 L545.94,15.46Z"/>
<path d="M610.82,8.48 L616.72,14.38 L610.82,20.28 L604.92,14.38Z"/>
<path d="M669.80,6.32 L676.23,12.75 L669.80,19.18 L663.37,12.75Z"/>
<path d="M74.70,111.15 L85.30,121.75 M85.30,111.15 L74.70,121.75" stroke="#000" stroke-width="1.15" fill="none"/>
<path d="M104.19,89.26 L114.79,99.86 M114.79,89.26 L104.19,99.86" stroke="#000" stroke-width="1.15" fill="none"/>
<path d="M133.68,60.55 L144.28,71.15 M144.28,60.55 L133.68,71.15" stroke="#000" stroke-width="1.15" fill="none"/>
<path d="M163.17,54.04 L173.77,64.64 M173.77,54.04 L163.17,64.64" stroke="#000" stroke-width="1.15" fill="none"/>
<path d="M192.66,48.63 L203.26,59.23 M203.26,48.63 L192.66,59.23" stroke="#000" stroke-width="1.15" fill="none"/>
<path d="M222.15,44.29 L232.75,54.89 M232.75,44.29 L222.15,54.89" stroke="#000" stroke-width="1.15" fill="none"/>
<path d="M251.64,38.77 L262.24,49.37 M262.24,38.77 L251.64,49.37" stroke="#000" stroke-width="1.15" fill="none"/>
<path d="M281.13,37.03 L291.73,47.63 M291.73,37.03 L281.13,47.63" stroke="#000" stroke-width="1.15" fill="none"/>
<path d="M310.62,35.08 L321.22,45.68 M321.22,35.08 L310.62,45.68" stroke="#000" stroke-width="1.15" fill="none"/>
<path d="M340.11,30.42 L350.71,41.02 M350.71,30.42 L340.11,41.02" stroke="#000" stroke-width="1.15" fill="none"/>
<path d="M369.60,29.12 L380.20,39.72 M380.20,29.12 L369.60,39.72" stroke="#000" stroke-width="1.15" fill="none"/>
<path d="M399.09,25.87 L409.69,36.47 M409.69,25.87 L399.09,36.47" stroke="#000" stroke-width="1.15" fill="none"/>
<path d="M428.58,24.79 L439.18,35.39 M439.18,24.79 L428.58,35.39" stroke="#000" stroke-width="1.15" fill="none"/>
<path d="M458.07,23.70 L468.67,34.30 M468.67,23.70 L458.07,34.30" stroke="#000" stroke-width="1.15" fill="none"/>
<path d="M487.56,22.62 L498.16,33.22 M498.16,22.62 L487.56,33.22" stroke="#000" stroke-width="1.15" fill="none"/>
<path d="M517.05,21.54 L527.65,32.14 M527.65,21.54 L517.05,32.14" stroke="#000" stroke-width="1.15" fill="none"/>
<path d="M546.54,20.45 L557.14,31.05 M557.14,20.45 L546.54,31.05" stroke="#000" stroke-width="1.15" fill="none"/>
<path d="M576.03,18.29 L586.63,28.89 M586.63,18.29 L576.03,28.89" stroke="#000" stroke-width="1.15" fill="none"/>
<path d="M605.52,15.04 L616.12,25.64 M616.12,15.04 L605.52,25.64" stroke="#000" stroke-width="1.15" fill="none"/>
<path d="M635.01,11.78 L645.61,22.38 M645.61,11.78 L635.01,22.38" stroke="#000" stroke-width="1.15" fill="none"/>
<circle cx="80.00" cy="161.74" r="4.95" fill="url(#sph)"/>
<circle cx="138.98" cy="141.05" r="4.95" fill="url(#sph)"/>
<circle cx="197.96" cy="134.33" r="4.95" fill="url(#sph)"/>
<circle cx="256.94" cy="130.10" r="4.95" fill="url(#sph)"/>
<circle cx="315.92" cy="115.69" r="4.95" fill="url(#sph)"/>
<circle cx="374.90" cy="100.30" r="4.95" fill="url(#sph)"/>
<circle cx="433.88" cy="82.10" r="4.95" fill="url(#sph)"/>
<circle cx="492.86" cy="62.60" r="4.95" fill="url(#sph)"/>
<circle cx="551.84" cy="41.25" r="4.95" fill="url(#sph)"/>
<circle cx="610.82" cy="23.59" r="4.95" fill="url(#sph)"/>
<circle cx="669.80" cy="12.75" r="4.95" fill="url(#sph)"/>
<circle cx="80.00" cy="344.98" r="4.95"/>
<circle cx="109.49" cy="122.19" r="4.95"/>
<circle cx="138.98" cy="92.94" r="4.95"/>
<circle cx="168.47" cy="79.72" r="4.95"/>
<circle cx="197.96" cy="76.36" r="4.95"/>
<circle cx="227.45" cy="59.34" r="4.95"/>
<circle cx="256.94" cy="53.49" r="4.95"/>
<circle cx="286.43" cy="50.13" r="4.95"/>
<circle cx="315.92" cy="46.12" r="4.95"/>
<circle cx="345.41" cy="43.31" r="4.95"/>
<circle cx="374.90" cy="41.14" r="4.95"/>
<circle cx="404.39" cy="38.76" r="4.95"/>
<circle cx="433.88" cy="36.05" r="4.95"/>
<circle cx="463.37" cy="33.01" r="4.95"/>
<circle cx="492.86" cy="31.93" r="4.95"/>
<circle cx="522.35" cy="31.28" r="4.95"/>
<circle cx="551.84" cy="29.00" r="4.95"/>
<circle cx="581.33" cy="27.05" r="4.95"/>
<circle cx="610.82" cy="24.67" r="4.95"/>
<circle cx="640.31" cy="18.17" r="4.95"/>
<circle cx="669.80" cy="12.75" r="4.95"/>
<path d="M80.00,289.72 L86.00,279.72 L74.00,279.72Z"/>
<path d="M111.04,218.63 L117.04,208.63 L105.04,208.63Z"/>
<path d="M142.08,213.43 L148.08,203.43 L136.08,203.43Z"/>
<path d="M173.13,210.51 L179.13,200.51 L167.13,200.51Z"/>
<path d="M204.17,207.58 L210.17,197.58 L198.17,197.58Z"/>
<path d="M235.21,203.79 L241.21,193.79 L229.21,193.79Z"/>
<path d="M266.25,197.39 L272.25,187.39 L260.25,187.39Z"/>
<path d="M297.29,190.68 L303.29,180.68 L291.29,180.68Z"/>
<path d="M328.34,183.42 L334.34,173.42 L322.34,173.42Z"/>
<path d="M359.38,175.07 L365.38,165.07 L353.38,165.07Z"/>
<path d="M390.42,166.94 L396.42,156.94 L384.42,156.94Z"/>
<path d="M421.46,160.44 L427.46,150.44 L415.46,150.44Z"/>
<path d="M452.51,156.11 L458.51,146.11 L446.51,146.11Z"/>
<path d="M483.55,127.83 L489.55,117.83 L477.55,117.83Z"/>
<path d="M514.59,69.75 L520.59,59.75 L508.59,59.75Z"/>
<path d="M545.63,66.17 L551.63,56.17 L539.63,56.17Z"/>
<path d="M576.67,51.97 L582.67,41.97 L570.67,41.97Z"/>
<path d="M607.72,40.38 L613.72,30.38 L601.72,30.38Z"/>
<path d="M638.76,27.38 L644.76,17.38 L632.76,17.38Z"/>
<line x1="156.8" y1="302.4" x2="208.5" y2="302.4" stroke="#111" stroke-width="0.95"/>
<rect x="178.30" y="298.05" width="8.70" height="8.70"/>
<text transform="translate(213.60,310.70) scale(1,1.0)" text-anchor="start" class="lg">5Hz,1.0MPa</text>
<line x1="322.0" y1="302.4" x2="374.0" y2="302.4" stroke="#111" stroke-width="0.95"/>
<path d="M348.00,296.50 L353.90,302.40 L348.00,308.30 L342.10,302.40Z"/>
<text transform="translate(379.90,310.70) scale(1,1.0)" text-anchor="start" class="lg">10Hz,1.0MPa</text>
<line x1="497.5" y1="302.4" x2="549.8" y2="302.4" stroke="#111" stroke-width="0.95"/>
<circle cx="523.65" cy="302.40" r="4.95"/>
<text transform="translate(554.00,310.70) scale(1,1.0)" text-anchor="start" class="lg">20Hz,1.0MPa</text>
<line x1="156.8" y1="330.6" x2="208.5" y2="330.6" stroke="#111" stroke-width="0.95"/>
<path d="M182.65,324.10 L188.65,334.10 L176.65,334.10Z"/>
<text transform="translate(213.60,338.90) scale(1,1.0)" text-anchor="start" class="lg">5Hz,2.5MPa</text>
<line x1="322.0" y1="330.6" x2="374.0" y2="330.6" stroke="#111" stroke-width="0.95"/>
<path d="M342.70,325.30 L353.30,335.90 M353.30,325.30 L342.70,335.90" stroke="#000" stroke-width="1.15" fill="none"/>
<text transform="translate(379.90,338.90) scale(1,1.0)" text-anchor="start" class="lg">10Hz,2.5MPa</text>
<line x1="497.5" y1="330.6" x2="549.8" y2="330.6" stroke="#111" stroke-width="0.95"/>
<path d="M523.65,337.10 L529.65,327.10 L517.65,327.10Z"/>
<text transform="translate(554.00,338.90) scale(1,1.0)" text-anchor="start" class="lg">20Hz,2.5MPa</text>
<line x1="156.8" y1="358.6" x2="208.5" y2="358.6" stroke="#111" stroke-width="0.95"/>
<path d="M182.65,353.08 L184.01,356.72 L187.90,356.89 L184.86,359.32 L185.90,363.07 L182.65,360.92 L179.40,363.07 L180.44,359.32 L177.40,356.89 L181.29,356.72Z"/>
<text transform="translate(213.60,366.90) scale(1,1.0)" text-anchor="start" class="lg">5Hz,5.0MPa</text>
<line x1="322.0" y1="358.6" x2="374.0" y2="358.6" stroke="#111" stroke-width="0.95"/>
<circle cx="348.00" cy="358.60" r="4.95" fill="url(#sph)"/>
<text transform="translate(379.90,366.90) scale(1,1.0)" text-anchor="start" class="lg">10Hz,5.0MPa</text>
</svg>
</body></html>
